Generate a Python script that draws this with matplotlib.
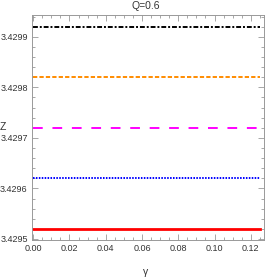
import numpy as np
import matplotlib.pyplot as plt
from matplotlib.ticker import MultipleLocator
from matplotlib import font_manager

# data (curves are flat over gamma)
gamma = [0.0, 0.025, 0.05, 0.075, 0.1, 0.125]
z_black = [3.42992, 3.42992, 3.42992, 3.42992, 3.42992, 3.42992]
z_orange = [3.42982, 3.42982, 3.42982, 3.42982, 3.42982, 3.42982]
z_magenta = [3.42972, 3.42972, 3.42972, 3.42972, 3.42972, 3.42972]
z_blue = [3.42962, 3.42962, 3.42962, 3.42962, 3.42962, 3.42962]
z_red = [3.42952, 3.42952, 3.42952, 3.42952, 3.42952, 3.42952]

xticks = [0.00, 0.02, 0.04, 0.06, 0.08, 0.10, 0.12]
yticks = [3.4295, 3.4296, 3.4297, 3.4298, 3.4299]

names = [f.name for f in font_manager.fontManager.ttflist]
if 'Liberation Sans Narrow' in names:
    plt.rcParams['font.family'] = ['Liberation Sans Narrow', 'DejaVu Sans']
else:
    plt.rcParams['font.family'] = ['Liberation Sans', 'DejaVu Sans']

fig = plt.figure(figsize=(2.66, 2.80), dpi=100)
ax = fig.add_axes([0.120, 0.143, 0.872, 0.803])

ax.plot(gamma, z_black, color='black', lw=1.4, dashes=(2.5, 1, 1, 1))
ax.plot(gamma, z_orange, color='#ff8c00', lw=1.4, dashes=(2.2, 1.1))
ax.plot(gamma, z_magenta, color='magenta', lw=1.4, dashes=(5, 5))
ax.plot(gamma, z_blue, color='blue', lw=1.4, dashes=(0.8, 0.7))
ax.plot(gamma, z_red, color='red', lw=2.0)

ax.set_xlim(-0.0007, 0.1272)
ax.set_ylim(3.429498, 3.429943)
ax.set_xticks(xticks)
ax.set_xticklabels([f'{v:.2f}' for v in xticks])
ax.set_yticks(yticks)
ax.set_yticklabels([f'{v:.4f}' for v in yticks])
ax.xaxis.set_minor_locator(MultipleLocator(0.005))
ax.yaxis.set_minor_locator(MultipleLocator(0.00002))

ax.tick_params(which='both', direction='in', top=True, right=True,
               color='#999999', labelcolor='#333333', labelsize=6.5, width=0.6)
ax.tick_params(which='major', length=4, pad=3)
ax.tick_params(which='minor', length=2)
for s in ax.spines.values():
    s.set_color('#999999')
    s.set_linewidth(0.7)

fig.text(0.549, 0.977, 'Q=0.6', ha='center', va='center', fontsize=7.5, color='#333333')
fig.text(0.012, 0.548, 'Z', ha='center', va='center', fontsize=7.5, color='#333333')
fig.text(0.549, 0.029, 'γ', ha='center', va='center', fontsize=7.5, color='#333333')

fig.savefig('out.png', dpi=100)
